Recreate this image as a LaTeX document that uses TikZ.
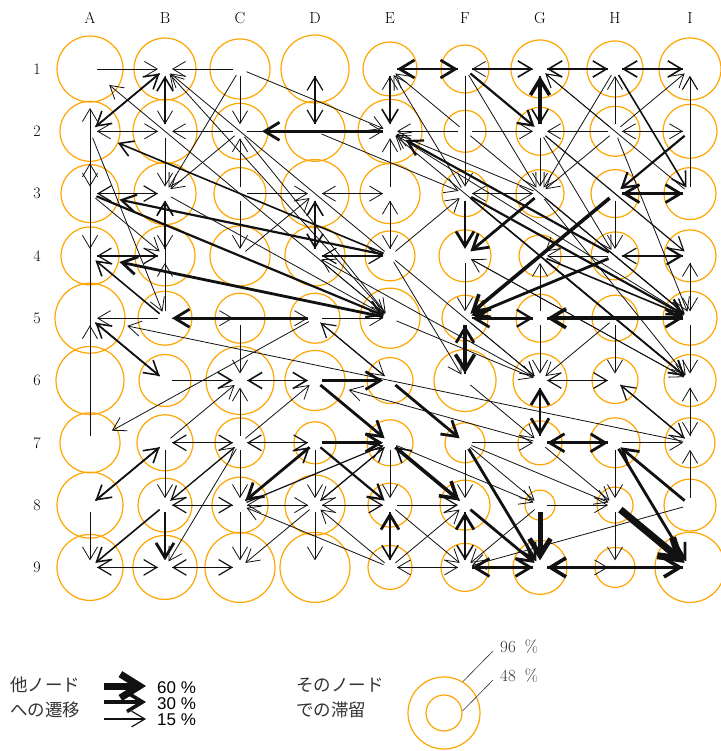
\documentclass[tikz,border=0pt]{standalone}
\usepackage{fontspec}
\usetikzlibrary{arrows.meta}
\newfontfamily\jpfont{Noto Sans CJK JP}
\newfontfamily\lgfont{Liberation Sans}
\definecolor{orng}{HTML}{FFA500}
\definecolor{ink}{HTML}{111111}
\tikzset{
  stay/.style = {circle, draw=orng, line width=1.2pt, inner sep=0pt,
                 minimum size=#1*2pt},
  tr/.style   = {draw=ink, line width=#1pt, shorten <=7pt, shorten >=7pt,
                 -{Straight Barb[length=12pt 1, width=14pt 1.4]}},
  lab/.style  = {inner sep=0pt, font=\fontsize{16}{16}\selectfont},
  jp/.style   = {anchor=west, inner sep=0pt, text=black!80,
                 font=\jpfont\fontsize{17.5}{17.5}\selectfont},
  pct/.style  = {anchor=west, inner sep=0pt, text height=12pt, text depth=0pt,
                 font=\lgfont\fontsize{17}{17}\selectfont},
  rate/.style = {anchor=west, inner sep=0pt, text=black!80,
                 font=\fontsize{17}{17}\selectfont},
}

\begin{document}
\begin{tikzpicture}[x=1pt, y=-1pt]
  \useasboundingbox (0,0) rectangle (720,751);

  % grid labels
  \foreach \c [count=\k from 0] in {A,B,C,D,E,F,G,H,I}
    \node[lab] (col\c) at (90+75*\k,18) {\c};
  \foreach \n [count=\k from 0] in {1,...,9}
    \node[lab] (row\n) at (37,69+62.3*\k) {\n};

  % stay circles
  \foreach \c/\rad [count=\k from 0] in {A/33,B/31,C/30,D/34,E/27,F/24,G/29,H/28,I/31}
    \node[stay=\rad] (\c1) at (90+75*\k,69) {};
  \foreach \c/\rad [count=\k from 0] in {A/30,B/32,C/28,D/30,E/32,F/21,G/24,H/25,I/27}
    \node[stay=\rad] (\c2) at (90+75*\k,131.3) {};
  \foreach \c/\rad [count=\k from 0] in {A/29,B/31,C/26,D/34,E/30,F/23,G/24,H/24,I/26}
    \node[stay=\rad] (\c3) at (90+75*\k,193.6) {};
  \foreach \c/\rad [count=\k from 0] in {A/29,B/30,C/30,D/30,E/25,F/26,G/21,H/24,I/26}
    \node[stay=\rad] (\c4) at (90+75*\k,255.9) {};
  \foreach \c/\rad [count=\k from 0] in {A/35,B/27,C/25,D/25,E/30,F/23,G/24,H/23,I/27}
    \node[stay=\rad] (\c5) at (90+75*\k,318.2) {};
  \foreach \c/\rad [count=\k from 0] in {A/34,B/26,C/34,D/30,E/23,F/31,G/27,H/23,I/26}
    \node[stay=\rad] (\c6) at (90+75*\k,380.5) {};
  \foreach \c/\rad [count=\k from 0] in {A/30,B/28,C/25,D/21,E/23,F/20,G/22,H/25,I/25}
    \node[stay=\rad] (\c7) at (90+75*\k,442.8) {};
  \foreach \c/\rad [count=\k from 0] in {A/33,B/27,C/28,D/30,E/22,F/25,G/15,H/18,I/26}
    \node[stay=\rad] (\c8) at (90+75*\k,505.1) {};
  \foreach \c/\rad [count=\k from 0] in {A/33,B/32,C/35,D/35,E/22,F/24,G/27,H/20,I/35}
    \node[stay=\rad] (\c9) at (90+75*\k,567.4) {};

  % transitions
  \foreach \src/\dst/\lw in {
    A1/B1/0.8, C1/B1/0.8, B2/B1/1.6, B1/B2/0.8, A2/B1/1.6, B1/A2/1.6,
    C1/C2/0.8, C3/C2/0.8, C1/B3/0.8, C1/E2/0.8, D1/D2/1.2, D2/D1/1.2,
    E1/F1/2.8, F1/E1/2.8, E2/E1/0.8, E1/E2/1.6, F3/E1/0.8, F2/E1/0.8,
    F1/F3/0.8, F1/G1/1.6, G1/F1/0.8, H1/G1/1.6, G1/H1/1.6, I1/H1/1.6,
    H1/I1/1.6, G2/G1/3.6, G1/G2/1.6, F1/G2/2.2, I3/G1/0.8, H2/G1/0.8,
    H1/G3/0.8, H2/H1/0.8, H1/I3/1.6, I2/I1/0.8, I3/I1/0.8, H2/I1/0.8,
    F1/G3/0.8,
    A2/B2/0.8, B2/A2/0.8, C2/B2/0.8, C2/E2/0.8, F2/E2/0.8, F2/G2/0.8,
    H2/G2/0.8, I2/H2/0.8, H2/I2/0.8, H2/G3/0.8, I2/H3/2.2, G2/G3/0.8,
    E3/E2/0.8, D2/F3/0.8, G3/E2/0.8, I5/E2/0.8, C2/B3/0.8, B2/B3/0.8,
    G2/H4/0.8, G2/I4/1.2, H2/I5/0.8, F2/I5/0.8,
    A2/A3/0.8, A3/A4/0.8, A7/A5/0.8, A3/B3/1.2, B3/A3/1.2, B4/B3/1.6,
    B5/B3/0.8, B3/B4/0.8, A3/B4/0.8, C3/C4/0.8, C3/D3/0.8, D3/E3/0.8,
    E3/D3/0.8, D4/D3/1.6, D3/D4/1.6, C4/D3/0.8, E4/E3/0.8, E3/E4/0.8,
    E4/F3/0.8, G3/F3/0.8, F3/G3/0.8, F3/F4/2.8, G3/F4/2.8, F3/I5/2.2,
    F3/I6/1.6, G3/I5/1.2, G3/I6/0.8, H3/H4/0.8, H3/I3/2.8, I3/H3/2.8,
    H3/F5/3.6, H3/G4/0.8, A3/E5/2.2, B3/E5/0.8,
    A4/B4/1.2, B4/A4/1.2, B5/A4/1.6, A2/B5/0.8, B5/B4/0.8, C2/E5/0.8,
    E4/B1/0.8, E5/B1/0.8, D4/E4/1.2, E4/D4/1.2, E4/F6/0.8, E4/G6/0.8,
    F4/F5/0.8, G6/D4/0.8, D4/E5/0.8, H4/I4/2.2, I4/H4/1.2, H4/G4/0.8,
    H4/F5/2.8, G4/I5/1.6, G4/I6/1.6, G4/E2/0.8, G5/G4/0.8, F4/I6/0.8,
    I6/F4/0.8, I5/I4/0.8, I4/I5/0.8,
    D5/B5/2.8, B5/C5/0.8, C5/D5/0.8, D5/E5/0.8, B5/A5/0.8, B6/A5/1.6,
    A5/B6/1.6, C5/C6/0.8, D5/E6/0.8, E6/D5/1.2, F5/F6/3.6, F6/F5/2.8,
    F5/G5/2.2, G5/F5/2.8, I5/G5/3.6, G5/I5/2.8, G5/G6/0.8, H5/H6/0.8,
    H5/G6/0.8, F5/G6/0.8, E5/G6/0.8, I5/I6/0.8,
    B6/C6/1.6, D6/C6/1.6, C6/D6/1.6, D6/E6/2.8, C7/C6/0.8, B7/C6/0.8,
    D6/E7/2.8, C7/D6/0.8, E6/F7/2.8, G6/H6/1.2, H6/G6/1.2, G6/G7/2.8,
    G7/G6/2.8, H6/I7/1.2, I7/H6/1.2, I7/I6/0.8, I6/I7/0.8, F6/G7/0.8,
    C7/B7/1.2, B7/C7/1.2, D7/C7/1.2, C7/D7/1.2, B7/B8/0.8, C7/C8/0.8,
    A8/B7/1.6, B7/A8/1.6, C7/B8/1.2, B8/C7/0.8, C7/B9/0.8, D7/C8/2.8,
    C8/D7/1.6, D7/E7/2.8, D7/E8/2.2, D7/D8/0.8, C8/E7/1.2, D8/E7/1.2,
    E7/D8/0.8, F8/E7/1.6, E7/F8/3.6, E7/E8/0.8, E7/G8/0.8, F7/G9/2.8,
    F7/G7/0.8, F7/G8/0.8, F7/H8/0.8, F7/F8/0.8, G7/H7/2.8, H7/G7/2.8,
    I8/H7/2.8, H7/I9/2.8, H7/I7/0.8, H7/H8/0.8, G7/H8/0.8, I8/I7/0.8,
    B8/B9/2.8, A8/A9/0.8, B8/A9/1.6, C8/B8/1.2, B8/C8/1.2, D8/C8/0.8,
    E9/C8/0.8, D8/C9/0.8, C8/C9/0.8, C8/D8/0.8, D8/E8/1.2, E8/D8/0.8,
    E9/D8/0.8, D8/D9/0.8, E8/F8/1.2, E8/F9/0.8, E8/E9/1.6, E9/E8/2.8,
    F8/F9/1.6, F9/F8/2.8, F8/G9/2.8, G8/H8/0.8, G8/G9/5, H8/I9/7,
    G8/F9/0.8, I8/F9/0.8, H8/H9/0.8,
    A9/B9/1.2, B9/A9/1.2, B9/C9/1.2, C9/B9/1.2, E9/F9/0.8, F9/E9/0.8,
    E9/F8/0.8, F9/G9/2.8, G9/F9/2.8, G9/I9/3.6, I9/G9/3.6, G9/H9/0.8}
    \draw[tr=\lw] (\src.center) -- (\dst.center);

  % long ones stopping short of the target
  \foreach \src/\dst/\lw/\gap in {
    E2/C2/2.8/22, H4/E2/2.2/18, E4/A2/1.6/30, A3/A2/0.8/32, A7/A1/0.8/39,
    E4/A3/2.2/30, E5/A1/0.8/25, E5/A4/2.8/30, I7/A5/0.8/38, D5/A7/0.8/25,
    G7/D6/0.8/35}
    \draw[tr=\lw, shorten >=\gap pt] (\src.center) -- (\dst.center);

  % legend: transitions
  \node[jp] (lgt1) at (10,685) {他ノード};
  \node[jp] (lgt2) at (10,710) {への遷移};
  \coordinate (l60s) at (104,686);
  \coordinate (l60e) at (146,686);
  \coordinate (l30s) at (104,702);
  \coordinate (l30e) at (146,702);
  \coordinate (l15s) at (104,719);
  \coordinate (l15e) at (146,719);
  \draw[tr=7, shorten <=0pt, shorten >=0pt] (l60s) -- (l60e);
  \draw[tr=3.6, shorten <=0pt, shorten >=0pt] (l30s) -- (l30e);
  \draw[tr=1.2, shorten <=0pt, shorten >=0pt] (l15s) -- (l15e);
  \node[pct] (p60) at (157,687) {60 \%};
  \node[pct] (p30) at (157,703) {30 \%};
  \node[pct] (p15) at (157,719) {15 \%};

  % legend: stay
  \node[jp] (lgt3) at (296,685) {そのノード};
  \node[jp] (lgt4) at (296,710) {での滞留};
  \node[stay=36] (lgo) at (444,713) {};
  \node[stay=18] (lgi) at (444,713) {};
  \coordinate (q96) at (493,651);
  \coordinate (q48) at (493,680);
  \draw[black!80, line width=0.6pt] (lgo.59) -- (q96);
  \draw[black!80, line width=0.6pt] (lgi.6) -- (q48);
  \node[rate] (t96) at (500,647) {96\hspace{9pt}\%};
  \node[rate] (t48) at (500,676) {48\hspace{9pt}\%};
\end{tikzpicture}
\end{document}
